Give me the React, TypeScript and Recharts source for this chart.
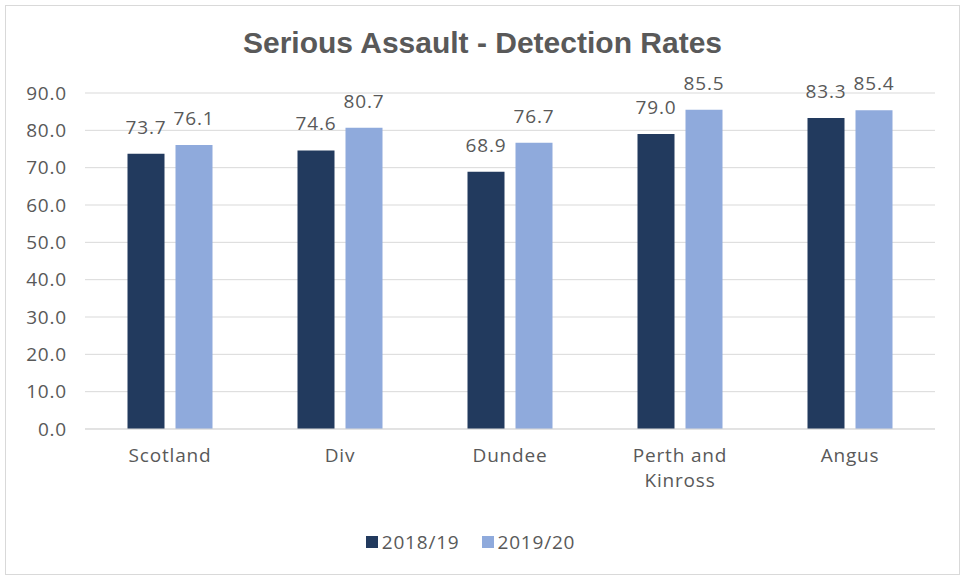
import React from 'react';
import { BarChart, Bar, XAxis, YAxis, CartesianGrid, Legend, LabelList, Text } from 'recharts';

const AREAS = ['Scotland', 'Div', 'Dundee', 'Perth and Kinross', 'Angus'];
const RATE_2018 = [73.7, 74.6, 68.9, 79.0, 83.3];
const RATE_2019 = [76.1, 80.7, 76.7, 85.5, 85.4];
const Y_TICKS = [0, 10, 20, 30, 40, 50, 60, 70, 80, 90];

const DARK = '#223a5e';
const LIGHT = '#8faadc';
const TEXT = '#595959';
const FONT = '"Open Sans", Lato, sans-serif';
const SPACING = '0.8px';

const data = AREAS.map((area, i) => ({ area, y2018: RATE_2018[i], y2019: RATE_2019[i] }));

function AreaTick({ x, y, payload }: { x?: number; y?: number; payload?: { value: string } }) {
  return (
    <Text x={x} y={(y ?? 0) + 12} width={105} textAnchor="middle" verticalAnchor="start" lineHeight={25}
      fill={TEXT} fontSize={19} fontFamily={FONT} style={{ letterSpacing: SPACING }}>
      {payload?.value}
    </Text>
  );
}

function LegendBox() {
  const items = [
    { label: '2018/19', color: DARK },
    { label: '2019/20', color: LIGHT },
  ];
  return (
    <div style={{ display: 'flex', justifyContent: 'center', gap: 22, height: 24, alignItems: 'center', fontFamily: FONT, fontSize: 19, letterSpacing: SPACING, color: TEXT }}>
      {items.map((it) => (
        <div key={it.label} style={{ display: 'flex', alignItems: 'center', gap: 4 }}>
          <span style={{ width: 12, height: 12, background: it.color, display: 'inline-block' }} />
          <span>{it.label}</span>
        </div>
      ))}
    </div>
  );
}

export default function App() {
  return (
    <div style={{ position: 'absolute', left: 5, top: 5, width: 953, height: 568, border: '1px solid #d9d9d9', background: '#fff' }}>
      <div style={{ position: 'absolute', top: 20, width: '100%', textAlign: 'center', fontFamily: '"Liberation Sans", Arial, sans-serif', fontWeight: 700, fontSize: 30, color: TEXT }}>
        Serious Assault - Detection Rates
      </div>
      <BarChart width={953} height={568} data={data} margin={{ top: 87, right: 24, left: 0, bottom: 20 }}
        barGap={11} barCategoryGap="25%">
        <CartesianGrid vertical={false} stroke="#d9d9d9" />
        <XAxis dataKey="area" tick={<AreaTick />} tickLine={false} axisLine={{ stroke: '#d9d9d9' }} height={101} interval={0} />
        <YAxis domain={[0, 90]} ticks={Y_TICKS} tickFormatter={(v: number) => v.toFixed(1)} width={79}
          tickLine={false} axisLine={false} tickMargin={12}
          tick={{ fill: TEXT, fontSize: 19, fontFamily: FONT, style: { letterSpacing: SPACING } }} />
        <Legend verticalAlign="bottom" content={<LegendBox />} />
        <Bar dataKey="y2018" fill={DARK} isAnimationActive={false}>
          <LabelList dataKey="y2018" position="top" offset={20} formatter={(v: number) => v.toFixed(1)}
            style={{ fill: TEXT, fontSize: 19, fontFamily: FONT, letterSpacing: SPACING }} />
        </Bar>
        <Bar dataKey="y2019" fill={LIGHT} isAnimationActive={false}>
          <LabelList dataKey="y2019" position="top" offset={20} formatter={(v: number) => v.toFixed(1)}
            style={{ fill: TEXT, fontSize: 19, fontFamily: FONT, letterSpacing: SPACING }} />
        </Bar>
      </BarChart>
    </div>
  );
}
